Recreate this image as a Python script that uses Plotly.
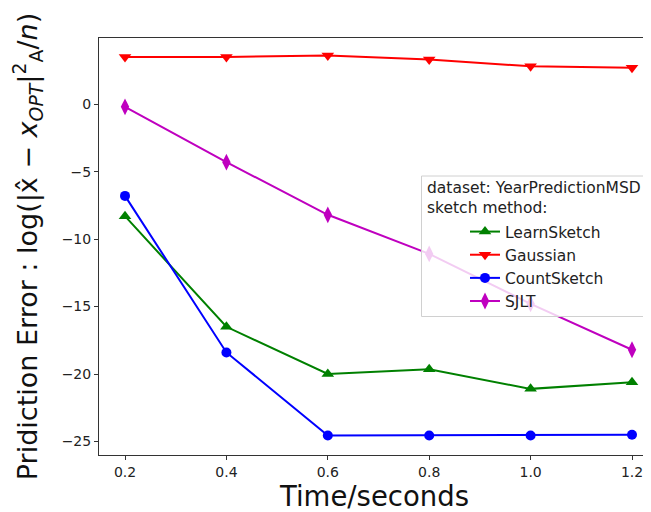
import plotly.graph_objects as go

times = [0.2, 0.4, 0.6, 0.8, 1.0, 1.2]
learnsketch = [-8.3, -16.5, -20.0, -19.65, -21.1, -20.6]
gaussian = [3.5, 3.5, 3.6, 3.3, 2.8, 2.7]
countsketch = [-6.8, -18.4, -24.55, -24.55, -24.55, -24.5]
sjlt = [-0.2, -4.3, -8.2, -11.1, -14.8, -18.2]
x_ticks = [0.2, 0.4, 0.6, 0.8, 1.0, 1.2]
y_ticks = [0, -5, -10, -15, -20, -25]

series = [
    ("LearnSketch", learnsketch, "#008000", "triangle-up", 11),
    ("Gaussian", gaussian, "#ff0000", "triangle-down", 11),
    ("CountSketch", countsketch, "#0000ff", "circle", 10),
    ("SJLT", sjlt, "#bf00bf", "diamond-tall", 12),
]

OFF = 8  # page body margin
W, H = 643, 504
L, R, T, B = 91, 1, 30, 57
pw, ph = W - L - R, H - T - B


def px(xp):
    return (xp - OFF - L) / pw


def py(yp):
    return 1 - (yp - OFF - T) / ph


fig = go.Figure()
for name, vals, color, sym, size in series:
    fig.add_trace(go.Scatter(
        x=times, y=vals, name=name, mode="lines+markers",
        line=dict(color=color, width=2),
        marker=dict(symbol=sym, size=size, color=color),
    ))

font = "DejaVu Sans, Liberation Sans, sans-serif"
fig.update_layout(
    width=W, height=H,
    margin=dict(l=L, r=R, t=T, b=B, autoexpand=False),
    plot_bgcolor="white", paper_bgcolor="white",
    font=dict(family=font, size=14, color="#222"),
    showlegend=True,
    legend=dict(
        x=px(465), y=py(215), xanchor="left", yanchor="top",
        bgcolor="rgba(0,0,0,0)", borderwidth=0,
        font=dict(size=15.5, color="#222"),
    ),
    xaxis=dict(
        range=[0.1487, 1.2355], tickvals=x_ticks, ticktext=[f"{v:.1f}" for v in x_ticks],
        showgrid=False, zeroline=False, showline=True, linecolor="#333", linewidth=1,
        mirror=True, ticks="outside", ticklen=4, tickcolor="#333",
        tickfont=dict(size=14),
        title=dict(text="Time/seconds", font=dict(size=27.5, color="#111"), standoff=4),
    ),
    yaxis=dict(
        range=[-26.0, 4.9], tickvals=y_ticks, ticktext=[str(v).replace("-", "−") for v in y_ticks],
        showgrid=False, zeroline=False, showline=True, linecolor="#333", linewidth=1,
        ticks="outside", ticklen=4, tickcolor="#333",
        tickfont=dict(size=14),
        title=dict(
            text="Pridiction Error : log(|x̂ − <i>x</i><sub><i>OPT</i></sub>|<sup>2</sup><sub>A</sub>/<i>n</i>)",
            font=dict(size=27, color="#111"), standoff=40,
        ),
    ),
    shapes=[dict(
        type="rect", xref="paper", yref="paper", layer="above",
        x0=px(421.5), x1=px(647), y0=py(316.5), y1=py(176),
        line=dict(color="#d0d0d0", width=1), fillcolor="rgba(255,255,255,0.8)",
    )],
    annotations=[dict(
        xref="paper", yref="paper", x=px(425), y=py(177), xanchor="left", yanchor="top",
        align="left", showarrow=False,
        text="dataset: YearPredictionMSD<br>sketch method:",
        font=dict(size=15.5, color="#222"),
    )],
)

fig.write_html("out.html")
